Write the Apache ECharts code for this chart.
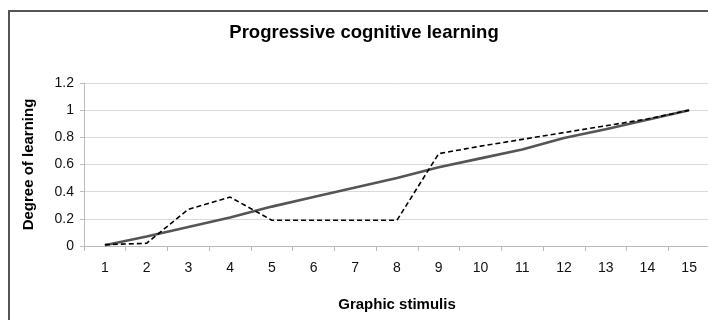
<!DOCTYPE html>
<html><head><meta charset="utf-8">
<script src="https://cdn.jsdelivr.net/npm/echarts@6/dist/echarts.min.js"></script>
<style>html,body{margin:0;padding:0;background:#fff}#c{width:708px;height:320px}</style>
</head><body><div id="c"></div>
<script>
const categories = ['1','2','3','4','5','6','7','8','9','10','11','12','13','14','15'];
const solidValues = [0.005,0.07,0.14,0.21,0.29,0.36,0.43,0.50,0.58,0.645,0.71,0.795,0.86,0.93,1.0];
const dashedValues = [0.01,0.02,0.27,0.36,0.19,0.19,0.19,0.19,0.68,0.735,0.785,0.835,0.885,0.935,1.0];
const yTicks = [0,0.2,0.4,0.6,0.8,1,1.2];

const chart = echarts.init(document.getElementById('c'));
const font = '"Liberation Sans", Arial, sans-serif';
chart.setOption({
  animation:false,
  backgroundColor:'#fff',
  graphic:[
    {type:'rect',shape:{x:9,y:11,width:720,height:340},style:{fill:'none',stroke:'#555',lineWidth:2}},
    {type:'text',x:364,y:33,style:{text:'Progressive cognitive learning',fontFamily:font,fontSize:18.5,fontWeight:'bold',fill:'#000',textAlign:'center',textVerticalAlign:'middle'}}
  ],
  grid:{left:84,right:-2,top:83,bottom:74,containLabel:false,outerBoundsMode:'none'},
  xAxis:{type:'category',data:categories,boundaryGap:true,
    name:'Graphic stimulis',nameLocation:'middle',nameGap:51,
    nameTextStyle:{fontFamily:font,fontSize:15,fontWeight:'bold',color:'#000'},
    axisLine:{lineStyle:{color:'#bbb',width:1}},
    axisTick:{show:true,length:5,lineStyle:{color:'#bbb'}},
    axisLabel:{fontFamily:font,fontSize:14,color:'#111',margin:15}},
  yAxis:{type:'value',min:0,max:1.2,interval:0.2,
    name:'Degree of learning',nameLocation:'middle',nameGap:48,
    nameTextStyle:{fontFamily:font,fontSize:15,fontWeight:'bold',color:'#000'},
    axisLine:{show:true,lineStyle:{color:'#bbb',width:1}},
    axisTick:{show:true,length:4,lineStyle:{color:'#bbb'}},
    splitLine:{lineStyle:{color:'#dadada',width:1}},
    axisLabel:{fontFamily:font,fontSize:14,color:'#111',margin:10,
      formatter:v=>{const t=yTicks.find(x=>Math.abs(x-v)<1e-9);return t===undefined?'':String(t);}}},
  series:[
    {type:'line',data:dashedValues,symbol:'none',z:3,
      lineStyle:{color:'#000',width:1.6,type:[5,3]}},
    {type:'line',data:solidValues,symbol:'none',z:2,
      lineStyle:{color:'#555',width:2.6}}
  ]
});
</script></body></html>
